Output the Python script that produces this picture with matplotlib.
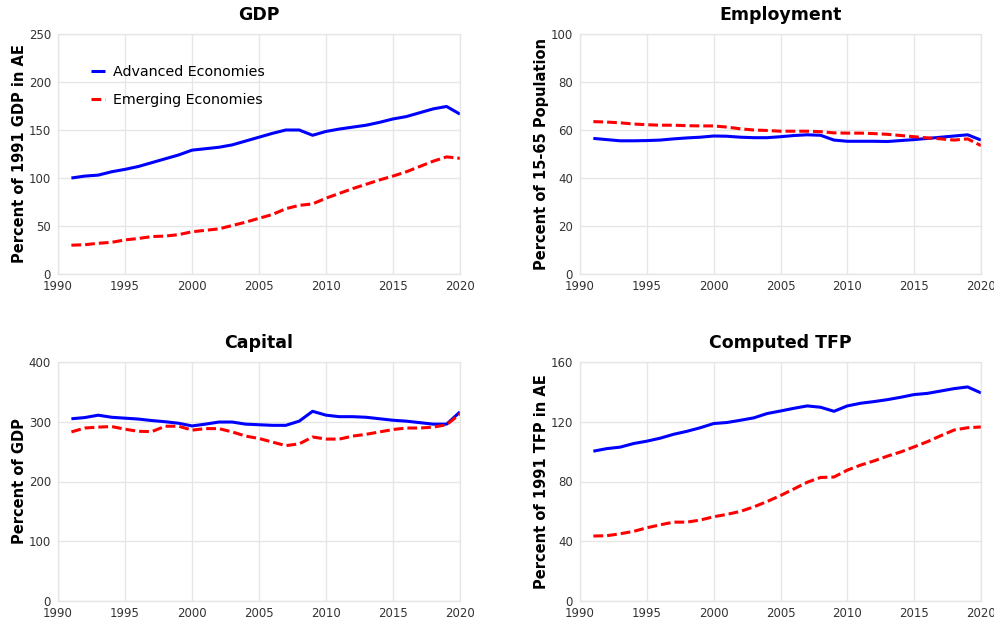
import matplotlib
matplotlib.use("Agg")
import matplotlib.pyplot as plt

years = list(range(1991, 2021))

gdp_ae = [100, 102, 103, 106.5, 109, 112, 116, 120, 124, 129, 130.5, 132, 134.5, 138.5, 142.5,
          146.5, 150, 150, 144.5, 148.5, 151, 153, 155, 158, 161.5, 164, 168, 172, 174.5, 166.5]
gdp_ee = [30, 30.5, 32, 33, 35.5, 37, 39, 39.5, 41, 44, 45.5, 47, 50.5, 54, 58,
          62, 68, 71.5, 73, 79, 84, 89, 93.5, 98, 102, 106.5, 112, 117.5, 122, 120.5]

emp_ae = [56.5, 56, 55.5, 55.5, 55.6, 55.8, 56.3, 56.7, 57, 57.5, 57.4, 57, 56.8, 56.8, 57.2,
          57.7, 58, 57.8, 55.8, 55.3, 55.3, 55.3, 55.2, 55.6, 56, 56.5, 57, 57.5, 58, 55.8]
emp_ee = [63.5, 63.3, 63, 62.5, 62.2, 62, 62, 61.8, 61.7, 61.7, 61.2, 60.5, 60, 59.8, 59.5,
          59.5, 59.5, 59.3, 58.8, 58.7, 58.7, 58.5, 58.2, 57.7, 57.2, 56.7, 56.3, 55.8, 56.3, 53.5]

cap_ae = [305, 307, 311, 307.5, 306, 304.5, 302, 300, 297.5, 293, 296, 299.5, 299.5, 296, 295,
          294, 294, 301, 317.5, 311, 308.5, 308.5, 307.5, 305, 302.5, 301, 298.5, 296, 296, 316.5]
cap_ee = [283, 289.5, 291, 292, 287.5, 284, 283.5, 292.5, 292.5, 286, 288.5, 288.5, 283, 276, 272,
          266, 260, 263, 274.5, 271, 271, 276, 279, 283, 287, 289.5, 289.5, 291, 295, 313]

tfp_ae = [100.3, 102, 103, 105.4, 107, 109, 111.6, 113.6, 116, 118.8, 119.5, 121, 122.6, 125.5, 127.2,
          129, 130.6, 129.7, 127, 130.6, 132.4, 133.5, 134.8, 136.4, 138.2, 139, 140.6, 142.2, 143.3, 139.3]
tfp_ee = [43.5, 43.7, 45, 46.6, 49, 51, 52.8, 52.8, 54.2, 56.4, 58, 60, 63, 66.6, 70.6,
          75, 79.5, 82.7, 83, 87.6, 91, 93.8, 97, 99.8, 103.2, 106.7, 110.7, 114.5, 116, 116.5]

series_names = ["Advanced Economies", "Emerging Economies"]
x_ticks = [1990, 1995, 2000, 2005, 2010, 2015, 2020]

panels = [
    ("GDP", "Percent of 1991 GDP in AE", gdp_ae, gdp_ee, [0, 50, 100, 150, 200, 250]),
    ("Employment", "Percent of 15-65 Population", emp_ae, emp_ee, [0, 20, 40, 60, 80, 100]),
    ("Capital", "Percent of GDP", cap_ae, cap_ee, [0, 100, 200, 300, 400]),
    ("Computed TFP", "Percent of 1991 TFP in AE", tfp_ae, tfp_ee, [0, 40, 80, 120, 160]),
]

plt.rcParams['font.family'] = ['DejaVu Sans']

fig = plt.figure(figsize=(9.95, 6.24), dpi=100)
W, H = 995, 624
boxes = [(58, 34, 460, 274), (580, 34, 981, 274), (58, 362, 460, 601), (580, 362, 981, 601)]

for (title, ylabel, ae, ee, yt), (x0, y0, x1, y1) in zip(panels, boxes):
    ax = fig.add_axes([x0 / W, 1 - y1 / H, (x1 - x0) / W, (y1 - y0) / H])
    ax.plot(years, ae, color="#0000ff", lw=2.2, label=series_names[0], solid_capstyle="butt")
    ax.plot(years, ee, color="#ff0000", lw=2.2, ls=(0, (3.2, 1.3)), label=series_names[1],
            dash_capstyle="butt")
    ax.set_xlim(1990, 2020)
    ax.set_ylim(yt[0], yt[-1])
    ax.set_xticks(x_ticks)
    ax.set_yticks(yt)
    ax.grid(True, color="#e6e6e6", lw=1)
    ax.set_axisbelow(True)
    for s in ax.spines.values():
        s.set_color("#e6e6e6")
        s.set_linewidth(1)
    ax.tick_params(axis="both", length=0, labelsize=8.5, colors="#333333")
    ax.tick_params(axis="x", pad=4.5)
    ax.tick_params(axis="y", pad=5)
    for lbl in ax.get_yticklabels():
        lbl.set_verticalalignment("center_baseline")
    ax.set_title(title, fontsize=12.5, fontweight="bold", pad=10)
    ax.set_ylabel(ylabel, fontsize=10.5, fontweight="bold", labelpad=1)
    if title == "GDP":
        ax.legend(loc="upper left", bbox_to_anchor=(0.05, 0.925), frameon=False, fontsize=10.3,
                  handlelength=1.0, handletextpad=0.55, labelspacing=0.98)

fig.savefig("out.png", dpi=100)
